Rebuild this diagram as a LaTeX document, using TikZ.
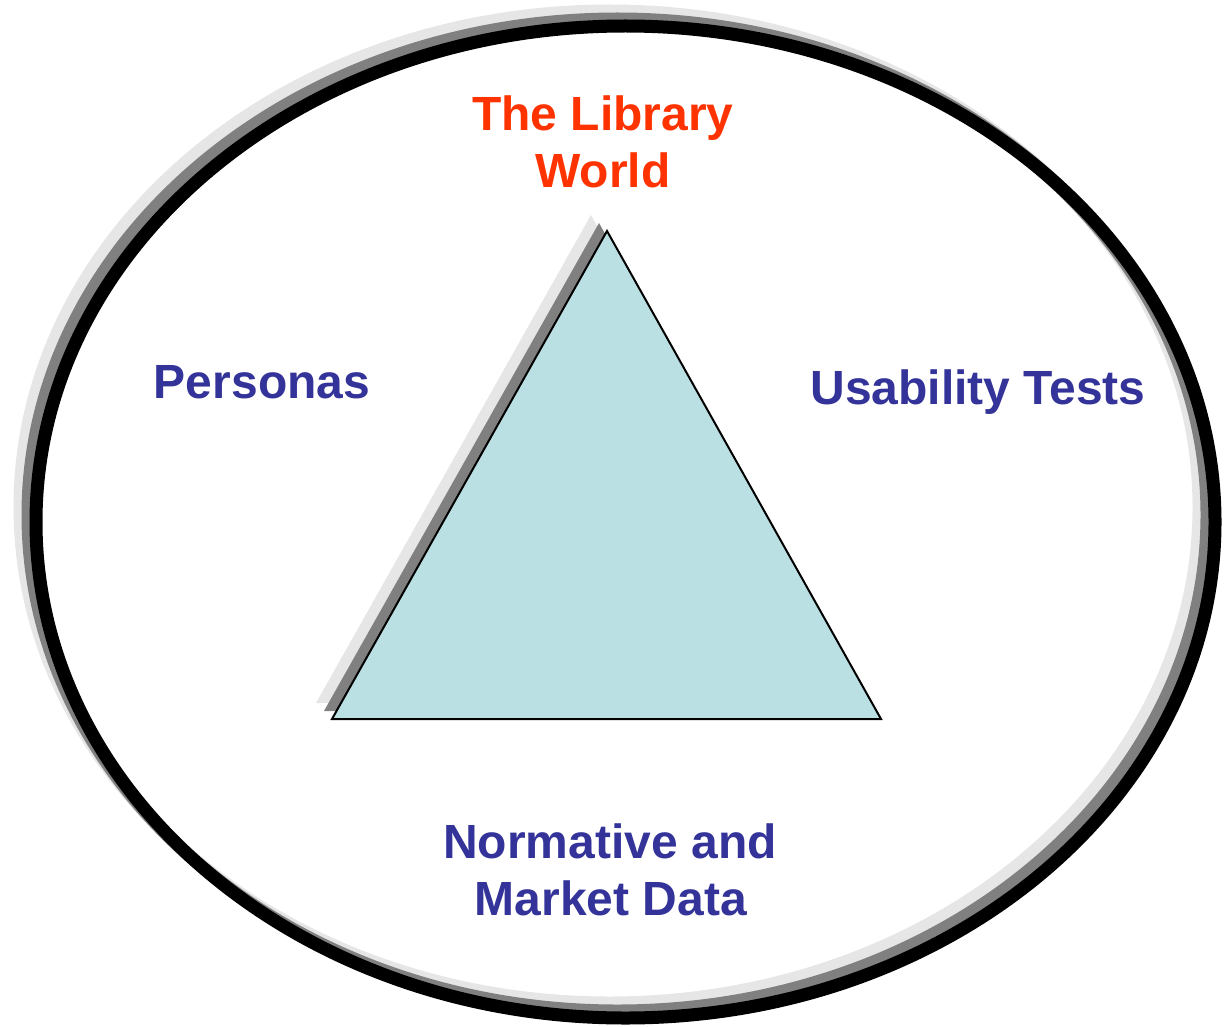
\documentclass[tikz,border=0pt]{standalone}
\usepackage{fontspec}
\setmainfont{Liberation Sans}
\definecolor{lightsh}{RGB}{230,230,230}
\definecolor{darksh}{RGB}{128,128,128}
\definecolor{trifill}{RGB}{187,224,227}
\definecolor{redtxt}{RGB}{255,51,0}
\definecolor{bluetxt}{RGB}{51,51,153}
\tikzset{
  lbl/.style={anchor=base, inner sep=0pt, font=\fontsize{48}{56}\selectfont\bfseries},
  redlbl/.style={lbl, text=redtxt},
  bluelbl/.style={lbl, text=bluetxt},
  ring/.style={line width=13pt},
}
\begin{document}
\begin{tikzpicture}[x=1pt,y=-1pt]
\useasboundingbox (0,0) rectangle (1225,1027);
% ellipse with shadows
\draw[ring, lightsh] (609.5,507) ellipse [x radius=589.5, y radius=496];
\draw[ring, darksh] (617.5,515) ellipse [x radius=589.5, y radius=496];
\draw[ring, black] (625.5,522) ellipse [x radius=589.5, y radius=496];
% triangle shadows
\fill[lightsh] (591,215) -- (316,703) -- (865,703) -- cycle;
\fill[darksh] (599,223) -- (324,711) -- (873,711) -- cycle;
% triangle
\coordinate (apex) at (607,231);
\coordinate (bl) at (332,719);
\coordinate (br) at (881,719);
\filldraw[fill=trifill, draw=black, line width=2pt, line join=miter] (apex) -- (bl) -- (br) -- cycle;
% labels
\node[redlbl] (lib1) at (603,131) {The Library};
\node[redlbl] (lib2) at (603,187) {World};
\node[bluelbl] (pers) at (262,398) {Personas};
\node[bluelbl] (usab) at (978,404) {Usability Tests};
\node[bluelbl] (norm1) at (610,858) {Normative and};
\node[bluelbl] (norm2) at (611,915) {Market Data};
\end{tikzpicture}
\end{document}
